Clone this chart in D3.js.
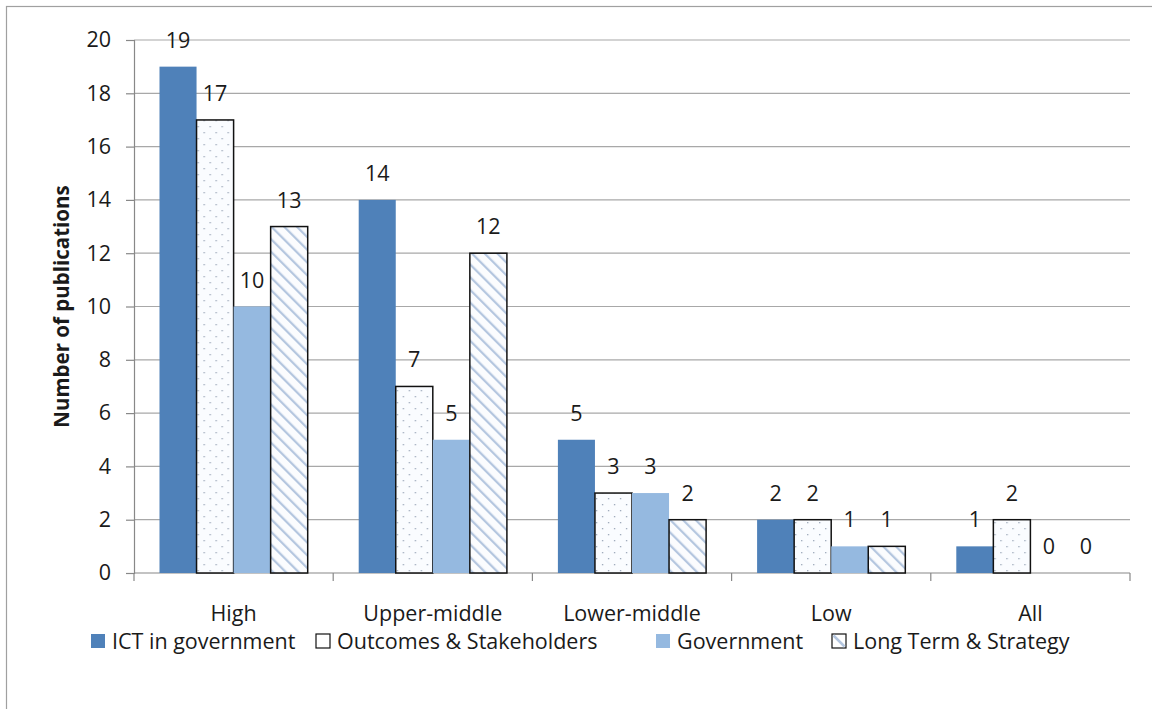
<!DOCTYPE html>
<html>
<head>
<meta charset="utf-8">
<script src="https://cdn.jsdelivr.net/npm/d3@7"></script>
<style>
  body { margin: 0; background: #fff; }
  text { font-family: "Open Sans", Lato, sans-serif; fill: #1a1a1a; }
</style>
</head>
<body>
<div id="chart"></div>
<script>
var categories = ["High", "Upper-middle", "Lower-middle", "Low", "All"];
var seriesNames = ["ICT in government", "Outcomes & Stakeholders", "Government", "Long Term & Strategy"];
var ictValues = [19, 14, 5, 2, 1];
var outcomesValues = [17, 7, 3, 2, 2];
var governmentValues = [10, 5, 3, 1, 0];
var longTermValues = [13, 12, 2, 1, 0];
var yTicks = [0, 2, 4, 6, 8, 10, 12, 14, 16, 18, 20];

var svgWidth = 1152;
var svgHeight = 709;
var margin = { top: 40, right: 22, bottom: 136, left: 134 };
var width = svgWidth - margin.left - margin.right;
var height = svgHeight - margin.top - margin.bottom;
var fontSize = "21.5px";

var series = [
    { name: seriesNames[0], values: ictValues, fill: "#4f81b9", stroke: "none", key: "fill" },
    { name: seriesNames[1], values: outcomesValues, fill: "url(#dots)", stroke: "#111", key: "empty" },
    { name: seriesNames[2], values: governmentValues, fill: "#95b9e0", stroke: "none", key: "fill" },
    { name: seriesNames[3], values: longTermValues, fill: "url(#hatch)", stroke: "#111", key: "hatch" }
];

var svg = d3.select("#chart")
    .append("svg")
    .attr("width", svgWidth)
    .attr("height", svgHeight);

var defs = svg.append("defs");

var dots = defs.append("pattern")
    .attr("id", "dots")
    .attr("patternUnits", "userSpaceOnUse")
    .attr("width", 12)
    .attr("height", 12);
dots.append("rect").attr("width", 12).attr("height", 12).attr("fill", "#fafcff");
dots.append("rect").attr("x", 2).attr("y", 2).attr("width", 1.3).attr("height", 1.3).attr("fill", "#9aa6b8");
dots.append("rect").attr("x", 8).attr("y", 8).attr("width", 1.3).attr("height", 1.3).attr("fill", "#9aa6b8");

var hatch = defs.append("pattern")
    .attr("id", "hatch")
    .attr("patternUnits", "userSpaceOnUse")
    .attr("width", 9)
    .attr("height", 9)
    .attr("patternTransform", "rotate(-45)");
hatch.append("rect").attr("width", 9).attr("height", 9).attr("fill", "#fbfcfe");
hatch.append("line")
    .attr("x1", 0).attr("y1", 0).attr("x2", 0).attr("y2", 9)
    .attr("stroke", "#b4c6df").attr("stroke-width", 4.5);

// outer frame (only left and top edges visible)
svg.append("rect")
    .attr("x", 6.5).attr("y", 6.5)
    .attr("width", svgWidth + 20).attr("height", svgHeight + 20)
    .attr("fill", "none")
    .attr("stroke", "#a0a0a0")
    .attr("stroke-width", 1.2);

var chartGroup = svg.append("g")
    .attr("transform", `translate(${margin.left}, ${margin.top})`);

var x0 = d3.scaleBand()
    .domain(categories)
    .range([0, width])
    .paddingInner(0.256)
    .paddingOuter(0.128);

var x1 = d3.scaleBand()
    .domain(d3.range(series.length))
    .range([0, x0.bandwidth()]);

var y = d3.scaleLinear()
    .domain([0, 20])
    .range([height, 0]);

// gridlines
chartGroup.append("g")
    .selectAll("line")
    .data(yTicks.filter(d => d > 0))
    .enter()
    .append("line")
    .attr("x1", 0)
    .attr("x2", width)
    .attr("y1", d => y(d))
    .attr("y2", d => y(d))
    .attr("stroke", "#a8a8a8")
    .attr("stroke-width", 1.2);

// y axis
var leftAxis = d3.axisLeft(y).tickValues(yTicks).tickSize(8).tickPadding(15);
var yAxis = chartGroup.append("g").call(leftAxis);
yAxis.select(".domain").attr("stroke", "#888").attr("stroke-width", 1.2);
yAxis.selectAll(".tick line").attr("stroke", "#888").attr("stroke-width", 1.2);
yAxis.selectAll(".tick text")
    .attr("font-size", fontSize)
    .attr("fill", "#1a1a1a")
    .style("font-family", "'Open Sans', Lato, sans-serif");

// x axis
var boundaries = d3.range(categories.length + 1).map(i => i * width / categories.length);
var xAxis = chartGroup.append("g").attr("transform", `translate(0, ${height})`);
xAxis.append("line")
    .attr("x1", 0).attr("x2", width)
    .attr("stroke", "#888").attr("stroke-width", 1.2);
xAxis.selectAll(".tk")
    .data(boundaries)
    .enter()
    .append("line")
    .attr("x1", d => d).attr("x2", d => d)
    .attr("y1", 0).attr("y2", 8)
    .attr("stroke", "#888").attr("stroke-width", 1.2);
xAxis.selectAll(".lbl")
    .data(categories)
    .enter()
    .append("text")
    .attr("x", d => x0(d) + x0.bandwidth() / 2)
    .attr("y", 48)
    .attr("text-anchor", "middle")
    .attr("font-size", fontSize)
    .text(d => d);

// bars
var groups = chartGroup.selectAll(".grp")
    .data(categories)
    .enter()
    .append("g")
    .attr("transform", d => `translate(${x0(d)}, 0)`);

groups.each(function(cat, ci) {
    var g = d3.select(this);
    series.forEach(function(s, si) {
        var v = s.values[ci];
        if (v > 0) {
            g.append("rect")
                .attr("x", x1(si))
                .attr("y", y(v))
                .attr("width", x1.bandwidth())
                .attr("height", y(0) - y(v))
                .attr("fill", s.fill)
                .attr("stroke", s.stroke)
                .attr("stroke-width", 1.5);
        }
        g.append("text")
            .attr("x", x1(si) + x1.bandwidth() / 2)
            .attr("y", y(v) - 19)
            .attr("text-anchor", "middle")
            .attr("font-size", fontSize)
            .text(v);
    });
});

// y axis title
chartGroup.append("text")
    .attr("transform", "rotate(-90)")
    .attr("x", -y(10))
    .attr("y", -65)
    .attr("text-anchor", "middle")
    .attr("font-size", "20.5px")
    .attr("font-weight", "bold")
    .text("Number of publications");

// legend
var legendItems = [
    { x: 91, s: series[0] },
    { x: 316, s: series[1] },
    { x: 656, s: series[2] },
    { x: 832, s: series[3] }
];
var legend = svg.append("g").attr("transform", "translate(0, 641)");
legendItems.forEach(function(item) {
    var k = item.s.key;
    legend.append("rect")
        .attr("x", item.x)
        .attr("y", -7)
        .attr("width", 14)
        .attr("height", 14)
        .attr("fill", k === "fill" ? item.s.fill : "#fff")
        .attr("stroke", k === "fill" ? "none" : "#111")
        .attr("stroke-width", 1.2);
    if (k === "hatch") {
        legend.append("line")
            .attr("x1", item.x + 1.5).attr("y1", -5.5)
            .attr("x2", item.x + 12.5).attr("y2", 5.5)
            .attr("stroke", "#b4c6df").attr("stroke-width", 2.5);
    }
    legend.append("text")
        .attr("x", item.x + 21)
        .attr("y", 8)
        .attr("font-size", fontSize)
        .text(item.s.name);
});
</script>
</body>
</html>
